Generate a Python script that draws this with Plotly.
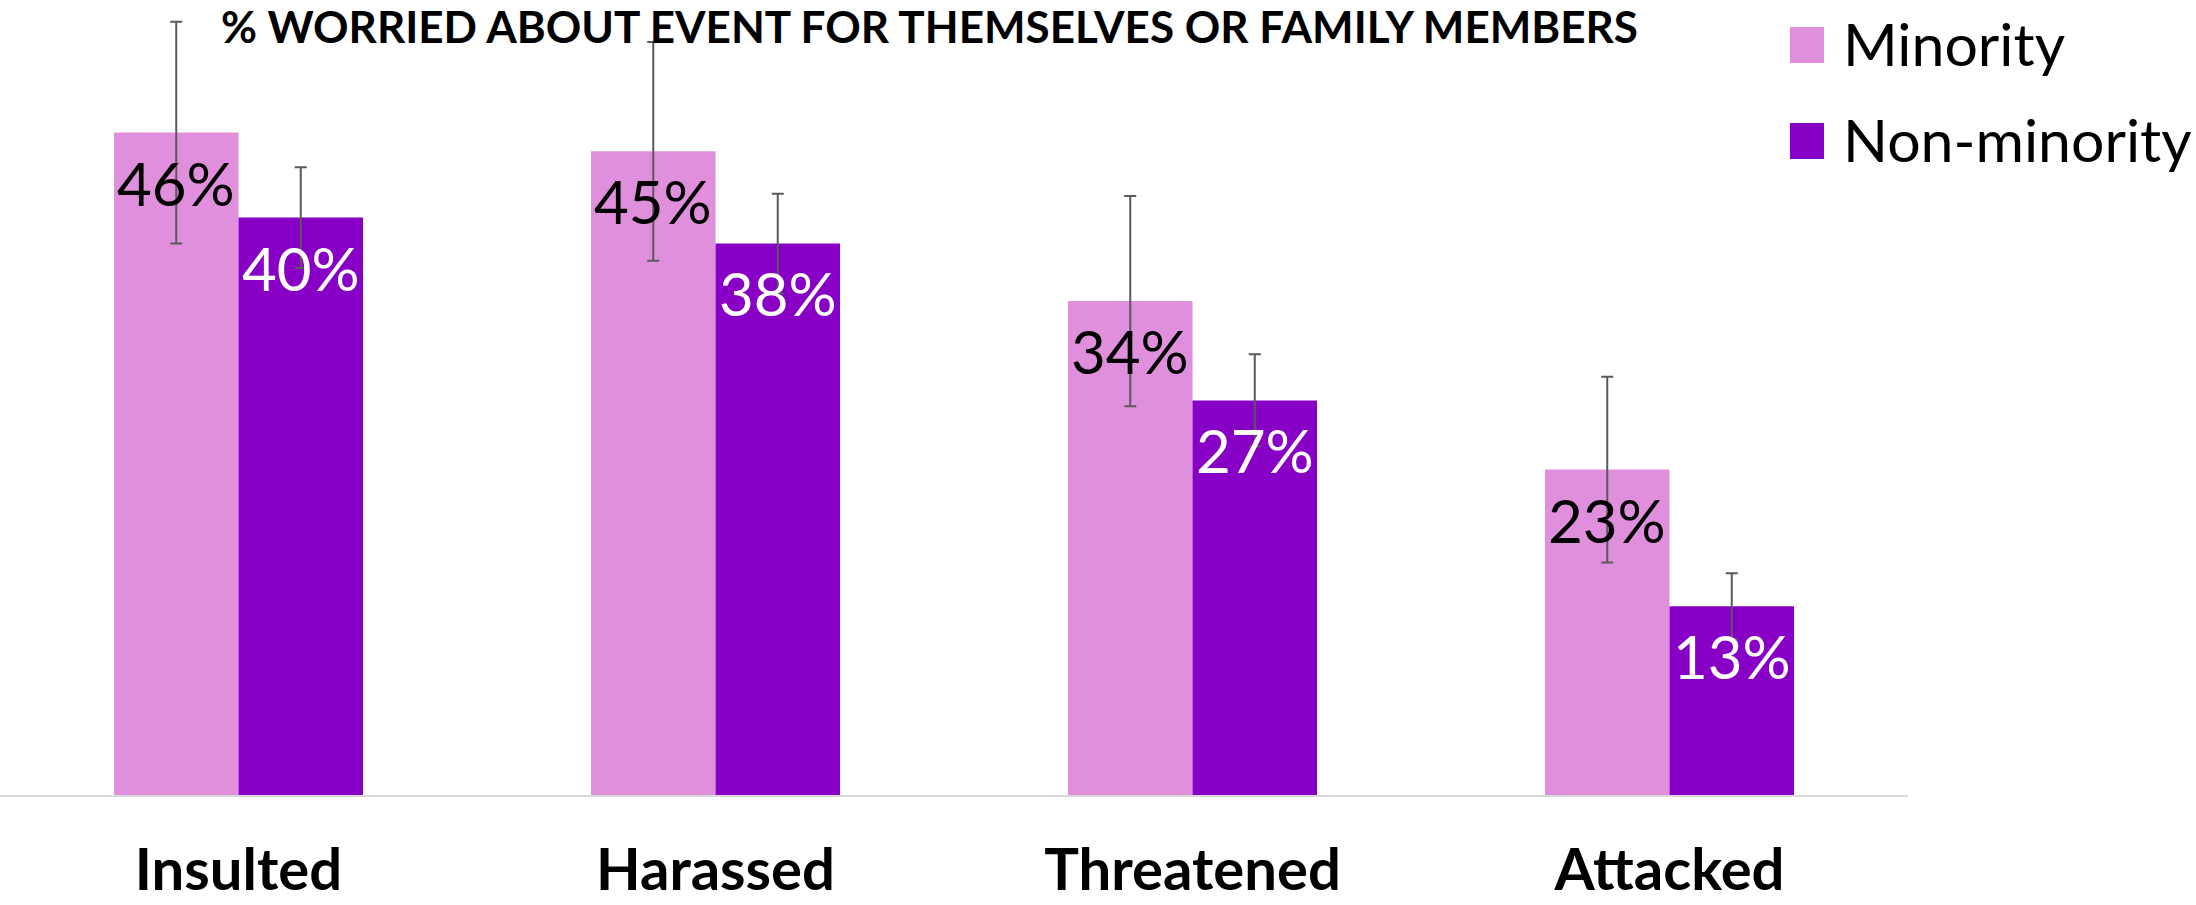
import plotly.graph_objects as go

# ---- data ----
categories = ["Insulted", "Harassed", "Threatened", "Attacked"]
minority = [46.0, 44.7, 34.3, 22.6]
non_minority = [40.1, 38.3, 27.4, 13.1]
minority_err = [7.7, 7.6, 7.3, 6.45]
non_minority_err = [3.5, 3.45, 3.2, 2.3]
series_names = ["Minority", "Non-minority"]
title_text = "% WORRIED ABOUT EVENT FOR THEMSELVES OR FAMILY MEMBERS"

# ---- style ----
W, H = 2196, 905
ML, MR, MT, MB = 0, 288, 0, 110
PW, PH = W - ML - MR, H - MT - MB
BARGAP = 0.478
C_MIN = "#E08FDD"
C_NON = "#8800C6"
ERR_C = "#595959"
FONT = "Lato"
LABEL_SIZE = 60

def px_x(p):
    return (p - ML) / PW

def px_y(p):
    return 1 - (p - MT) / PH

fig = go.Figure()
fig.add_trace(go.Bar(
    name=series_names[0], x=categories, y=minority,
    marker=dict(color=C_MIN, line=dict(width=0)),
    error_y=dict(type="data", array=minority_err, color=ERR_C, thickness=2, width=6),
    showlegend=False, hoverinfo="skip",
))
fig.add_trace(go.Bar(
    name=series_names[1], x=categories, y=non_minority,
    marker=dict(color=C_NON, line=dict(width=0)),
    error_y=dict(type="data", array=non_minority_err, color=ERR_C, thickness=2, width=6),
    showlegend=False, hoverinfo="skip",
))

shapes = []
annotations = []

# value labels inside the top of each bar
group_px = (1 - BARGAP) * PW / len(categories)
bar_off = group_px / 4
for vals, shift, col in [(minority, -bar_off, "black"), (non_minority, bar_off, "white")]:
    for cat, v in zip(categories, vals):
        annotations.append(dict(
            text=f"{v:.0f}%", x=cat, y=v, xref="x", yref="y",
            xshift=shift, yshift=-12, xanchor="center", yanchor="top",
            showarrow=False,
            font=dict(family=FONT, size=LABEL_SIZE, color=col)))

# manual legend
leg_rows = [(27, 63, C_MIN, series_names[0]), (123, 159, C_NON, series_names[1])]
for top, bot, col, name in leg_rows:
    shapes.append(dict(type="rect", xref="paper", yref="paper",
                       x0=px_x(1790), x1=px_x(1824), y0=px_y(bot), y1=px_y(top),
                       fillcolor=col, line=dict(width=0)))
    annotations.append(dict(text=name, xref="paper", yref="paper",
                            x=px_x(1841), y=px_y((top + bot) / 2 - 1),
                            xanchor="left", yanchor="middle", showarrow=False,
                            font=dict(family=FONT, size=59, color="black")))

annotations.append(dict(text="<b>" + title_text + "</b>", xref="paper", yref="paper",
                        x=px_x(219), y=px_y(-2), xanchor="left", yanchor="top",
                        showarrow=False,
                        font=dict(family=FONT, size=44, color="black")))

fig.update_layout(
    width=W, height=H,
    margin=dict(l=ML, r=MR, t=MT, b=MB, autoexpand=False),
    paper_bgcolor="white", plot_bgcolor="white",
    barmode="group", bargap=BARGAP, bargroupgap=0,
    shapes=shapes, annotations=annotations,
    showlegend=False,
)
fig.update_xaxes(
    showline=True, linecolor="#D9D9D9", linewidth=2,
    showgrid=False, zeroline=False, ticks="", automargin=False,
    tickfont=dict(family=FONT, size=58, color="black", weight="bold"),
    ticklabelstandoff=23,
)
fig.update_yaxes(
    range=[0, PH / 14.4], visible=False, showgrid=False, zeroline=False,
    automargin=False,
)

fig.write_html("out.html", config={"displayModeBar": False},
               post_script="document.body.style.margin='0';")
